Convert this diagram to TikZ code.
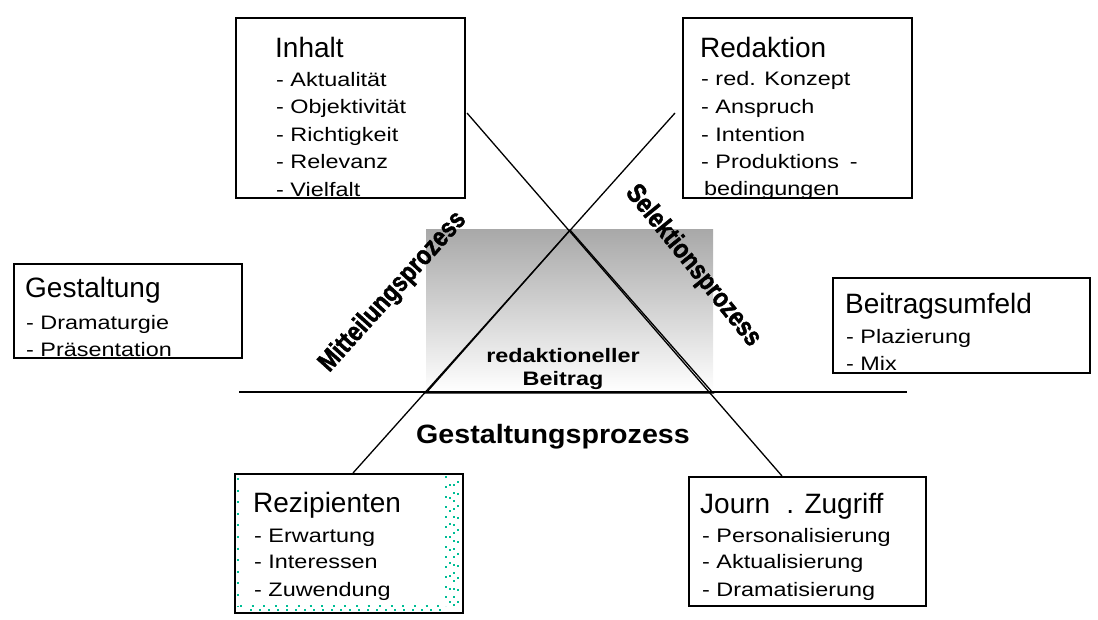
\documentclass[tikz,border=0pt]{standalone}
\usepackage{fontspec}
\setmainfont{Liberation Sans}
\newfontfamily\itemfont[FakeStretch=1.2]{Liberation Sans}
\newfontfamily\boldwide[FakeStretch=1.2]{Liberation Sans}
\newfontfamily\boldmid[FakeStretch=1.08]{Liberation Sans}
\newfontfamily\boldnarrow[FakeStretch=0.84,FakeBold=1.6]{Liberation Sans}
\definecolor{tealdot}{RGB}{0,190,150}
\definecolor{shadetop}{RGB}{168,168,168}
\tikzset{
  box/.style={draw, line width=1.5pt, inner sep=0pt, anchor=north west},
  ttl/.style={anchor=base west, inner sep=0pt, font=\fontsize{28}{28}\selectfont},
  itm/.style={anchor=base west, inner sep=0pt, font=\itemfont\fontsize{19.5}{19.5}\selectfont},
  conn/.style={line width=1.3pt},
  proc/.style={inner sep=0pt, font=\boldnarrow\bfseries\fontsize{27}{27}\selectfont},
  dots/.style={tealdot, line width=2pt}
}
\begin{document}
\begin{tikzpicture}[x=1pt,y=-1pt]
\useasboundingbox (0,0) rectangle (1098,619);

% shaded rectangle behind triangle
\shade[top color=shadetop, bottom color=white] (426,229) rectangle (713,392);

% boxes
\node[box, minimum width=229pt, minimum height=180pt] (inhalt) at (235,17) {};
\node[box, minimum width=229pt, minimum height=180pt] (redaktion) at (682,17) {};
\node[box, minimum width=228pt, minimum height=94pt] (gestaltung) at (13,263) {};
\node[box, minimum width=257pt, minimum height=95pt] (umfeld) at (832,277) {};
\node[box, minimum width=228pt, minimum height=139pt] (rezip) at (234,473) {};
\node[box, minimum width=237pt, minimum height=129pt] (journ) at (688,476) {};

% teal dotted fill traces in Rezipienten box
\draw[dots, dash pattern=on 2pt off 9.6pt] (238,478) -- (238,606);
\draw[dots, dash pattern=on 2pt off 9.6pt] (240,606) -- (448,606);
\draw[dots, dash pattern=on 2pt off 7pt, dash phase=3pt] (244,610) -- (446,610);
\draw[dots, dash pattern=on 2pt off 8pt] (446,476) -- (446,606);
\draw[dots, dash pattern=on 2pt off 11pt, dash phase=5pt] (450,476) -- (450,606);
\draw[dots, dash pattern=on 2pt off 6pt, dash phase=2pt] (454,478) -- (454,606);
\draw[dots, dash pattern=on 2pt off 10pt, dash phase=7pt] (458,476) -- (458,606);

% texts (clipped to their boxes)
\begin{scope}
\clip (inhalt.north west) rectangle (inhalt.south east);
\node[ttl] (t1) at (275,57) {Inhalt};
\node[itm] (i11) at (276,86) {- Aktualität};
\node[itm] (i12) at (276,113) {- Objektivität};
\node[itm] (i13) at (276,141) {- Richtigkeit};
\node[itm] (i14) at (276,168) {- Relevanz};
\node[itm] (i15) at (276,196) {- Vielfalt};
\end{scope}
\begin{scope}
\clip (redaktion.north west) rectangle (redaktion.south east);
\node[ttl] (t2) at (700,57) {Redaktion};
\node[itm] (i21) at (701,85) {- red. Konzept};
\node[itm] (i22) at (701,113) {- Anspruch};
\node[itm] (i23) at (701,141) {- Intention};
\node[itm] (i24) at (701,168) {- Produktions\hspace{0.55em}-};
\node[itm] (i25) at (704,195) {bedingungen};
\end{scope}
\begin{scope}
\clip (gestaltung.north west) rectangle (gestaltung.south east);
\node[ttl] (t3) at (25,297) {Gestaltung};
\node[itm] (i31) at (26,329) {- Dramaturgie};
\node[itm] (i32) at (26,356) {- Präsentation};
\end{scope}
\begin{scope}
\clip (umfeld.north west) rectangle (umfeld.south east);
\node[ttl] (t4) at (845,313) {Beitragsumfeld};
\node[itm] (i41) at (846,343) {- Plazierung};
\node[itm] (i42) at (846,370) {- Mix};
\end{scope}
\node[ttl] (t5) at (253,512) {Rezipienten};
\node[itm] (i51) at (254,542) {- Erwartung};
\node[itm] (i52) at (254,568) {- Interessen};
\node[itm] (i53) at (254,596) {- Zuwendung};
\node[ttl] (t6) at (700,513) {Journ\hspace{0.3em} . Zugriff};
\node[itm] (i61) at (702,542) {- Personalisierung};
\node[itm] (i62) at (702,568) {- Aktualisierung};
\node[itm] (i63) at (702,596) {- Dramatisierung};

% central texts
\node[anchor=base, inner sep=0pt, font=\boldwide\bfseries\fontsize{19.5}{19.5}\selectfont] (rb1) at (563,362) {redaktioneller};
\node[anchor=base, inner sep=0pt, font=\boldwide\bfseries\fontsize{19.5}{19.5}\selectfont] (rb2) at (563,385) {Beitrag};
\node[anchor=base, inner sep=0pt, font=\boldmid\bfseries\fontsize{26.5}{26.5}\selectfont] (gp) at (553,443) {Gestaltungsprozess};
\node[proc, rotate=48] (mp) at (393,292) {Mitteilungsprozess};
\node[proc, rotate=-51] (sp) at (693,266) {Selektionsprozess};

% lines
\coordinate (a1) at (467,113);
\coordinate (a2) at (782,476);
\coordinate (b1) at (353,473);
\coordinate (b2) at (675,113);
\coordinate (h1) at (239,392);
\coordinate (h2) at (907,392);
\coordinate (apex) at (570,230);
\coordinate (tl) at (426,393);
\coordinate (tr) at (713,393);
\draw[conn] (h1) -- (h2);
\draw[conn] (a1) -- (a2);
\draw[conn] (b1) -- (b2);
\draw[conn, line join=miter] (apex) -- (tr) -- (tl) -- cycle;
\end{tikzpicture}
\end{document}
